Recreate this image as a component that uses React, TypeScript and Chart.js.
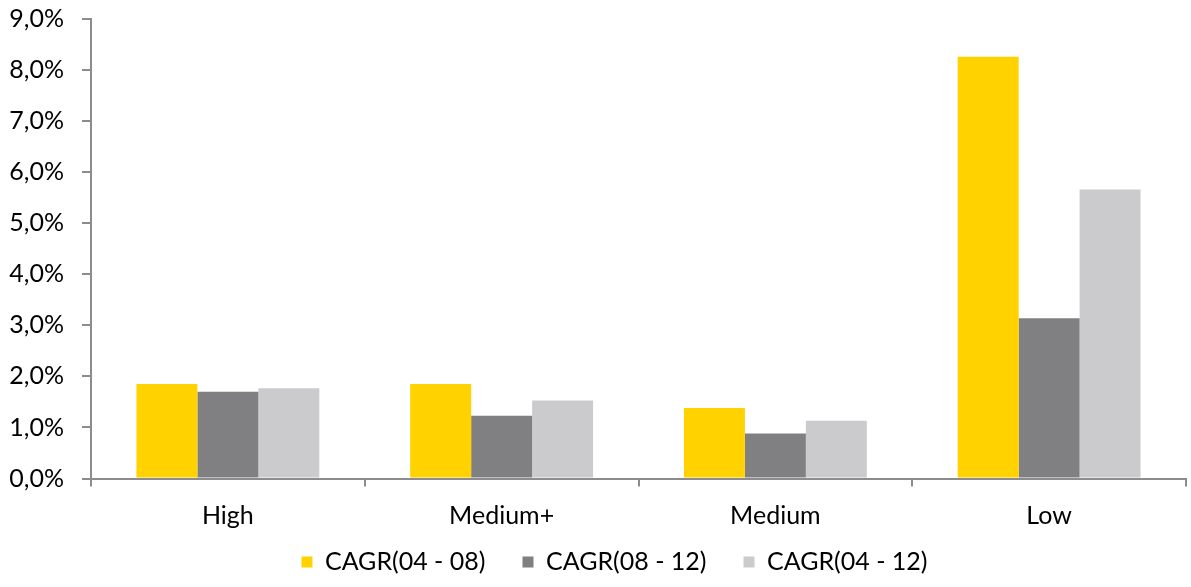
import React, { useEffect, useRef } from "react";
import { Chart, registerables } from "chart.js";

Chart.register(...registerables);

const categories = ["High", "Medium+", "Medium", "Low"];
const seriesLabels = ["CAGR(04 - 08)", "CAGR(08 - 12)", "CAGR(04 - 12)"];
const cagr0408 = [1.85, 1.85, 1.38, 8.26];
const cagr0812 = [1.7, 1.23, 0.88, 3.14];
const cagr0412 = [1.77, 1.53, 1.13, 5.66];
const seriesColors = ["#FFD200", "#808083", "#CBCBCD"];
const yTicks = [0, 1, 2, 3, 4, 5, 6, 7, 8, 9];

const FONT = "Lato, 'Open Sans', sans-serif";
const FONT_SIZE = 25;
const AXIS_GREY = "#8C8C8C";

const X_AXIS_HEIGHT = 58.5;
const LEGEND_HEIGHT = 50;

// Keeps the legend compact in the layout and places its row just under the category labels.
const legendPlacement = {
  id: "legendPlacement",
  beforeLayout(chart: any) {
    const lg = chart.legend;
    if (lg && !lg.__fitWrapped) {
      const fit = lg.fit.bind(lg);
      lg.fit = () => {
        fit();
        lg.height = LEGEND_HEIGHT;
      };
      lg.__fitWrapped = true;
    }
  },
  afterLayout(chart: any) {
    const lg = chart.legend;
    if (lg) {
      lg.left = 43;
      lg.top = chart.chartArea.bottom + 34;
    }
  },
};

export default function App() {
  const canvasRef = useRef<HTMLCanvasElement | null>(null);

  useEffect(() => {
    const canvas = canvasRef.current;
    if (!canvas) return;
    const values = [cagr0408, cagr0812, cagr0412];

    const chart = new Chart(canvas, {
      type: "bar",
      data: {
        labels: categories,
        datasets: values.map((data, i) => ({
          label: seriesLabels[i],
          data,
          backgroundColor: seriesColors[i],
          borderWidth: 0,
          categoryPercentage: 0.668,
          barPercentage: 1.0,
        })),
      },
      plugins: [legendPlacement],
      options: {
        responsive: true,
        maintainAspectRatio: false,
        animation: false,
        layout: { padding: { left: 0, right: 5, top: 19, bottom: 0 } },
        plugins: {
          tooltip: { enabled: false },
          legend: {
            position: "bottom",
            labels: {
              boxWidth: 11,
              boxHeight: 11,
              padding: 37,
              color: "#000",
              font: { family: FONT, size: FONT_SIZE },
            },
          },
        },
        scales: {
          x: {
            grid: {
              offset: true,
              drawOnChartArea: false,
              drawTicks: true,
              tickLength: 8,
              color: AXIS_GREY,
              lineWidth: 2,
            },
            border: { color: AXIS_GREY, width: 2 },
            ticks: {
              color: "#000",
              padding: 14.5,
              font: { family: FONT, size: FONT_SIZE },
            },
            afterFit: (scale: any) => {
              scale.height = X_AXIS_HEIGHT;
            },
          },
          y: {
            min: 0,
            max: 9,
            afterBuildTicks: (scale: any) => {
              scale.ticks = yTicks.map((v) => ({ value: v }));
            },
            grid: {
              drawOnChartArea: false,
              drawTicks: true,
              tickLength: 9,
              color: AXIS_GREY,
              lineWidth: 2,
            },
            border: { color: AXIS_GREY, width: 2 },
            ticks: {
              color: "#000",
              padding: 18,
              font: { family: FONT, size: FONT_SIZE },
              callback: (v: any) => Number(v).toFixed(1).replace(".", ",") + "%",
            },
            afterFit: (scale: any) => {
              scale.width = 91;
              scale.paddingTop = 0;
              scale.paddingBottom = 0;
            },
          },
        },
      },
    });

    if ((document as any).fonts && (document as any).fonts.ready) {
      (document as any).fonts.ready.then(() => chart.update());
    }

    return () => chart.destroy();
  }, []);

  return (
    <div style={{ position: "absolute", left: 0, top: 0, width: 1191, height: 587, background: "#fff" }}>
      <canvas ref={canvasRef} />
    </div>
  );
}
